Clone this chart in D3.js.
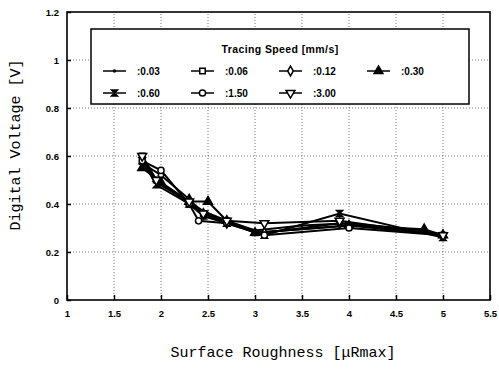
<!DOCTYPE html>
<html>
<head>
<meta charset="utf-8">
<script src="https://cdn.jsdelivr.net/npm/d3@7"></script>
<style>
  body { margin: 0; background: #fff; }
  svg { display: block; }
  .tick-lbl { font-family: "Liberation Sans", Arial, sans-serif; font-weight: bold; font-size: 9.5px; }
  .mono { font-family: "Liberation Mono", "DejaVu Sans Mono", monospace; font-size: 15px; }
  .leg { font-family: "Liberation Sans", Arial, sans-serif; font-weight: bold; font-size: 10px; }
</style>
</head>
<body>
<script>
// ---- data ----
var speedLabels = [":0.03", ":0.06", ":0.12", ":0.30", ":0.60", ":1.50", ":3.00"];
var markerKinds = ["dot", "square", "diamond", "triUp", "hourglass", "circle", "triDown"];

var x003 = [1.8, 1.95, 2.3, 2.45, 2.7, 3.0, 3.5, 4.0, 4.8, 5.0];
var y003 = [0.59, 0.49, 0.41, 0.37, 0.33, 0.29, 0.31, 0.32, 0.29, 0.27];
var x006 = [1.8, 1.95, 2.3, 2.45, 2.7, 3.0, 4.0, 5.0];
var y006 = [0.60, 0.50, 0.40, 0.36, 0.33, 0.28, 0.31, 0.27];
var x012 = [1.8, 2.0, 2.3, 2.45, 2.7, 3.1, 3.9, 5.0];
var y012 = [0.57, 0.52, 0.42, 0.36, 0.32, 0.28, 0.32, 0.27];
var x030 = [1.8, 2.0, 2.3, 2.5, 2.7, 3.0, 4.0, 4.8, 5.0];
var y030 = [0.55, 0.49, 0.41, 0.41, 0.33, 0.28, 0.31, 0.295, 0.27];
var x060 = [1.8, 1.95, 2.3, 2.45, 2.7, 3.1, 3.9, 5.0];
var y060 = [0.58, 0.48, 0.40, 0.35, 0.32, 0.27, 0.36, 0.26];
var x150 = [1.8, 2.0, 2.3, 2.4, 2.7, 3.1, 4.0, 5.0];
var y150 = [0.58, 0.54, 0.40, 0.33, 0.32, 0.27, 0.30, 0.27];
var x300 = [1.8, 1.95, 2.3, 2.45, 2.7, 3.1, 3.9, 5.0];
var y300 = [0.60, 0.50, 0.41, 0.36, 0.33, 0.32, 0.33, 0.27];

var xTicks = [1, 1.5, 2, 2.5, 3, 3.5, 4, 4.5, 5, 5.5];
var yTicks = [0, 0.2, 0.4, 0.6, 0.8, 1, 1.2];

var allX = [x003, x006, x012, x030, x060, x150, x300];
var allY = [y003, y006, y012, y030, y060, y150, y300];
var series = speedLabels.map(function(lab, i) {
  return { label: lab, kind: markerKinds[i],
           pts: allX[i].map(function(v, j) { return [v, allY[i][j]]; }) };
});

// ---- canvas ----
var W = 499, H = 372;
var svg = d3.select("body").append("svg").attr("width", W).attr("height", H);

var x = d3.scaleLinear().domain([1, 5.5]).range([67, 490]);
var y = d3.scaleLinear().domain([0, 1.2]).range([300, 12]);

// grid (dotted)
var grid = svg.append("g");
grid.selectAll(".gx").data(xTicks.slice(1, -1)).enter().append("line")
  .attr("x1", d => x(d)).attr("x2", d => x(d)).attr("y1", y(0)).attr("y2", y(1.2))
  .attr("stroke", "#555").attr("stroke-width", 0.8).attr("stroke-dasharray", "1,2");
grid.selectAll(".gy").data(yTicks.slice(1, -1)).enter().append("line")
  .attr("y1", d => y(d)).attr("y2", d => y(d)).attr("x1", x(1)).attr("x2", x(5.5))
  .attr("stroke", "#555").attr("stroke-width", 0.8).attr("stroke-dasharray", "1,2");

// axes (ticks pointing inwards)
var xAxis = d3.axisBottom(x).tickValues(xTicks).tickSize(-5).tickPadding(10)
  .tickFormat(d3.format("~g"));
var yAxis = d3.axisLeft(y).tickValues(yTicks).tickSize(-4).tickPadding(8)
  .tickFormat(d3.format("~g"));

var gx = svg.append("g").attr("transform", "translate(0," + y(0) + ")").call(xAxis);
var gy = svg.append("g").attr("transform", "translate(" + x(1) + ",0)").call(yAxis);
[gx, gy].forEach(function(g) {
  g.select(".domain").remove();
  g.selectAll(".tick line").attr("stroke", "#000").attr("stroke-width", 1.5);
  g.selectAll(".tick text").attr("class", "tick-lbl").attr("fill", "#000");
});

// frame
svg.append("rect").attr("x", x(1)).attr("y", y(1.2))
  .attr("width", x(5.5) - x(1)).attr("height", y(0) - y(1.2))
  .attr("fill", "none").attr("stroke", "#000").attr("stroke-width", 1.6);

// markers
function hourglass(s) {
  var h = s / 2;
  return "M" + (-h) + "," + (-h) + "L" + h + "," + (-h) + "L" + (-h) + "," + h + "L" + h + "," + h + "Z";
}
function markerPath(kind) {
  switch (kind) {
    case "square": return d3.symbol(d3.symbolSquare, 30)();
    case "diamond": return d3.symbol(d3.symbolDiamond, 28)();
    case "triUp": return d3.symbol(d3.symbolTriangle, 34)();
    case "triDown": return d3.symbol(d3.symbolTriangle, 34)();
    case "circle": return d3.symbol(d3.symbolCircle, 30)();
    case "hourglass": return hourglass(6);
    default: return d3.symbol(d3.symbolCircle, 3)();
  }
}
function drawMarker(g, kind, cx, cy) {
  var filled = (kind === "triUp" || kind === "hourglass" || kind === "dot");
  g.append("path").attr("d", markerPath(kind))
    .attr("transform", "translate(" + cx + "," + cy + ")" + (kind === "triDown" ? " rotate(180)" : ""))
    .attr("fill", filled ? "#000" : "#fff")
    .attr("stroke", "#000").attr("stroke-width", 1.5);
}

var line = d3.line().x(d => x(d[0])).y(d => y(d[1]));
var plot = svg.append("g");
series.forEach(function(s) {
  plot.append("path").datum(s.pts).attr("d", line)
    .attr("fill", "none").attr("stroke", "#000").attr("stroke-width", 2);
});
series.forEach(function(s) {
  s.pts.forEach(function(p) { drawMarker(plot, s.kind, x(p[0]), y(p[1])); });
});

// legend
var leg = svg.append("g");
leg.append("rect").attr("x", 91).attr("y", 29).attr("width", 378).attr("height", 75)
  .attr("fill", "#fff").attr("stroke", "#000").attr("stroke-width", 1.5);
leg.append("text").attr("class", "leg").attr("x", 280).attr("y", 53)
  .attr("text-anchor", "middle").style("font-size", "10.5px").style("letter-spacing", "0.4px")
  .text("Tracing Speed [mm/s]");
series.forEach(function(s, i) {
  var col = i % 4, row = Math.floor(i / 4);
  var lx = 103 + col * 88, ly = 71 + row * 22;
  leg.append("line").attr("x1", lx).attr("x2", lx + 23).attr("y1", ly).attr("y2", ly)
    .attr("stroke", "#000").attr("stroke-width", 1.5);
  drawMarker(leg, s.kind, lx + 11.5, ly);
  leg.append("text").attr("class", "leg").attr("x", lx + 34).attr("y", ly + 4).text(s.label);
});

// axis titles
svg.append("text").attr("class", "mono").attr("x", 283).attr("y", 357)
  .attr("text-anchor", "middle").text("Surface Roughness [\u03bcRmax]");
svg.append("text").attr("class", "mono")
  .attr("transform", "translate(20,145) rotate(-90)")
  .attr("text-anchor", "middle").text("Digital Voltage [V]");
</script>
</body>
</html>
